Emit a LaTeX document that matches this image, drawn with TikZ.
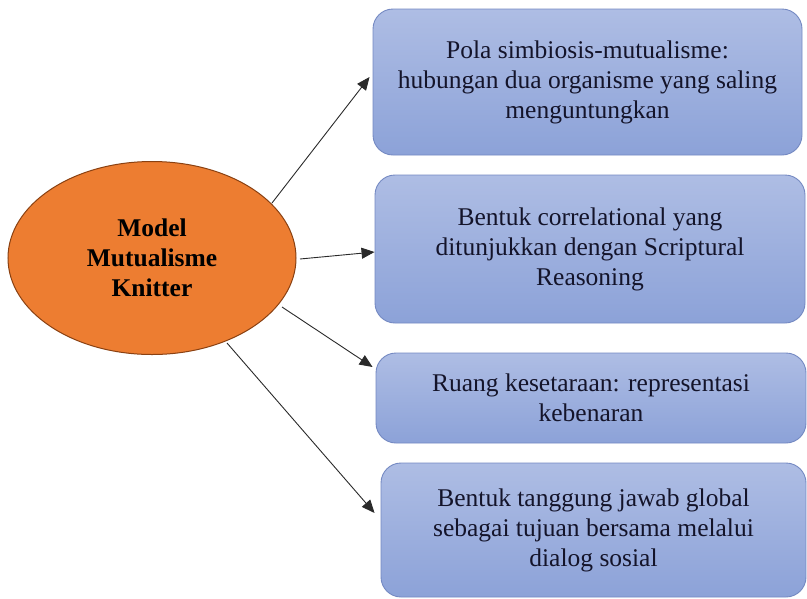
\documentclass[tikz,border=0pt]{standalone}
\usepackage{fontspec}
\setmainfont{Liberation Serif}
\usetikzlibrary{shapes.geometric,arrows.meta,calc}
\definecolor{orangefill}{HTML}{ED7D31}
\definecolor{orangeline}{HTML}{8A4112}
\definecolor{boxtop}{HTML}{AEBDE4}
\definecolor{boxbot}{HTML}{8CA2D8}
\definecolor{boxline}{HTML}{7489C2}
\definecolor{txt}{HTML}{14142A}
\definecolor{arrowc}{HTML}{2A2A2A}
\begin{document}
\begin{tikzpicture}[x=1pt,y=-1pt,
  font=\fontsize{25.5}{30}\selectfont,
  infobox/.style={rounded corners=20pt, draw=boxline, line width=0.9pt,
    top color=boxtop, bottom color=boxbot, text=txt, align=center,
    inner sep=0pt},
  centreell/.style={ellipse, draw=orangeline, line width=1pt, fill=orangefill,
    text=black, align=center, inner sep=0pt, font=\fontsize{25.5}{30}\selectfont\bfseries,
    minimum width=288pt, minimum height=193pt},
  link/.style={draw=arrowc, line width=0.9pt, -{Triangle[length=13pt,width=11pt]}}
]
\useasboundingbox (0,0) rectangle (807,598);

\node[centreell] (e) at (152,258) {Model\\Mutualisme\\Knitter};

\node[infobox, minimum width=429pt, minimum height=146pt] (b1) at (587.5,82)
  {Pola simbiosis-mutualisme:\\hubungan dua organisme yang saling\\menguntungkan};
\node[infobox, minimum width=430pt, minimum height=148pt] (b2) at (590,249)
  {Bentuk correlational yang\\ditunjukkan dengan Scriptural\\Reasoning};
\node[infobox, minimum width=430pt, minimum height=90pt] (b3) at (591,398)
  {Ruang kesetaraan: representasi\\kebenaran};
\node[infobox, minimum width=425pt, minimum height=134pt] (b4) at (593.5,530)
  {Bentuk tanggung jawab global\\sebagai tujuan bersama melalui\\dialog sosial};

\coordinate (s1) at ($(e.center)+(120,-55)$);
\coordinate (s2) at ($(e.center)+(148,1)$);
\coordinate (s3) at ($(e.center)+(130,49)$);
\coordinate (s4) at ($(e.center)+(75,85)$);
\coordinate (t1) at ($(b1.west)+(-3,-5)$);
\coordinate (t2) at ($(b2.west)+(0,3)$);
\coordinate (t3) at ($(b3.west)+(-3,-31)$);
\coordinate (t4) at ($(b4.west)+(-6,-17)$);

\draw[link] (s1) -- (t1);
\draw[link] (s2) -- (t2);
\draw[link] (s3) -- (t3);
\draw[link] (s4) -- (t4);
\end{tikzpicture}
\end{document}
